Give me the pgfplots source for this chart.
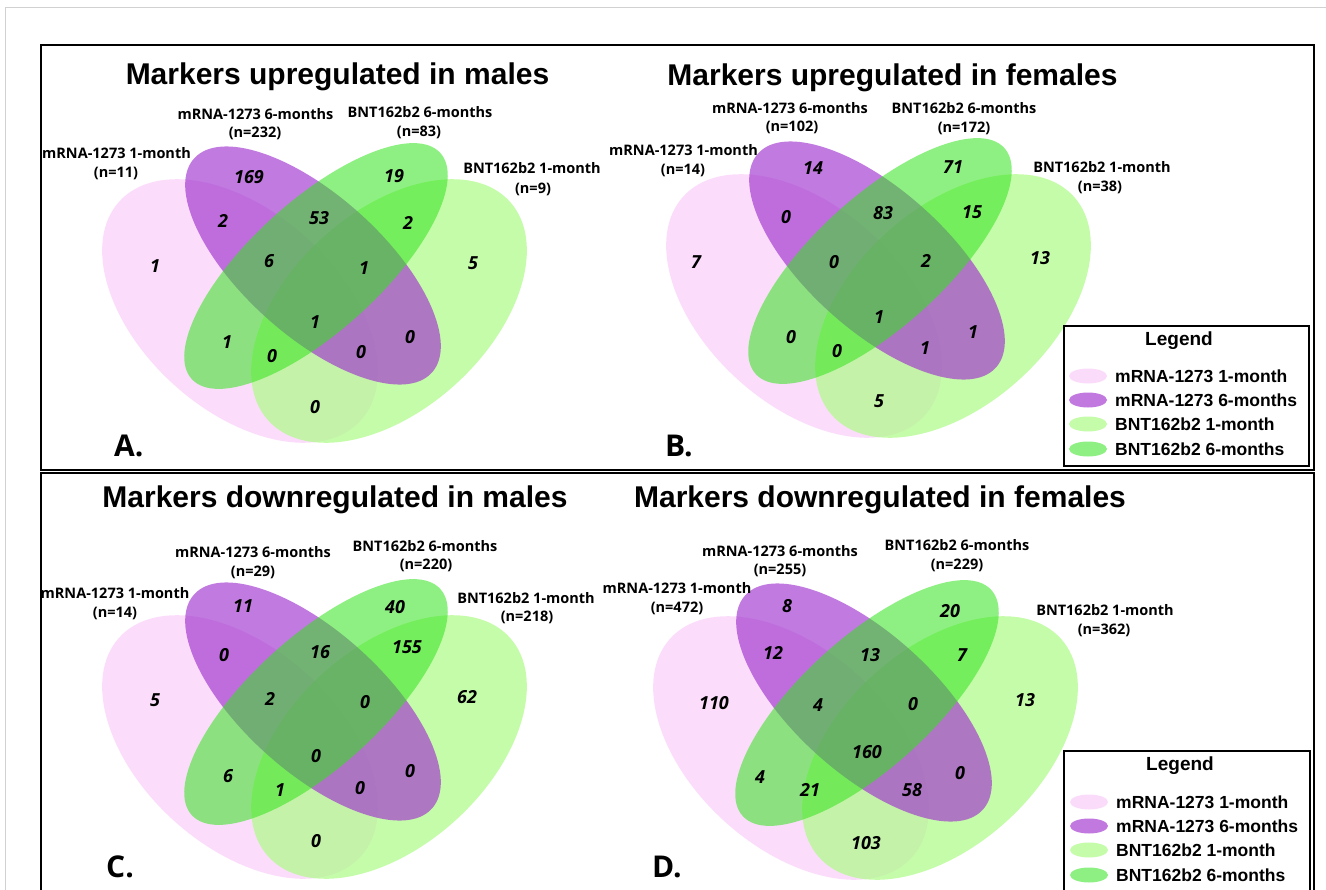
\documentclass[border=0pt]{standalone}
\usepackage{fontspec}
\setmainfont{Liberation Sans}
\newfontfamily\osans{Open Sans}
\usepackage{pgfplots}
\pgfplotsset{compat=1.18}
\usepackage{pgfplotstable}

% set colours (painted in this order, each translucent)
\definecolor{mOne}{RGB}{247,187,247}
\definecolor{bOne}{RGB}{176,251,139}
\definecolor{mSix}{RGB}{160,50,206}
\definecolor{bSix}{RGB}{50,228,28}
\tikzset{
  mone/.style={fill=mOne, fill opacity=0.5},
  bone/.style={fill=bOne, fill opacity=0.73},
  msix/.style={fill=mSix, fill opacity=0.65},
  bsix/.style={fill=bSix, fill opacity=0.55},
}
\newcommand\titlefont{\bfseries\fontsize{30bp}{36bp}\selectfont}
\newcommand\setfont{\osans\bfseries\fontsize{14.5bp}{17bp}\selectfont}
\newcommand\countfont{\osans\bfseries\itshape\fontsize{18bp}{21bp}\selectfont}
\newcommand\legfont{\bfseries\fontsize{17.5bp}{21bp}\selectfont}
\newcommand\legtitlefont{\bfseries\fontsize{19bp}{23bp}\selectfont}
\newcommand\panelfont{\osans\bfseries\fontsize{30bp}{36bp}\selectfont}

% set names and sizes
\pgfplotstableread{
x y t
116.5 153 {mRNA-1273 1-month}
116 173 {(n=11)}
255.5 114 {mRNA-1273 6-months}
255 133 {(n=232)}
420 112 {BNT162b2 6-months}
419 132 {(n=83)}
532 168 {BNT162b2 1-month}
533 189 {(n=9)}
683.5 150 {mRNA-1273 1-month}
683 170 {(n=14)}
790 108 {mRNA-1273 6-months}
792 127 {(n=102)}
964 108 {BNT162b2 6-months}
964 128 {(n=172)}
1102 167 {BNT162b2 1-month}
1100 187 {(n=38)}
115 593 {mRNA-1273 1-month}
115 613 {(n=14)}
253 552 {mRNA-1273 6-months}
253 572 {(n=29)}
425 546 {BNT162b2 6-months}
426 565 {(n=220)}
526 598 {BNT162b2 1-month}
527 617 {(n=218)}
677 588 {mRNA-1273 1-month}
677 608 {(n=472)}
780 551 {mRNA-1273 6-months}
780 570 {(n=255)}
957 545 {BNT162b2 6-months}
957 565 {(n=229)}
1105 610 {BNT162b2 1-month}
1104 630 {(n=362)}
}\setlabels

% region counts: up in males
\pgfplotstableread{
x y n
155 266 1
249 177 169
394 176 19
473 263 5
223 221 2
269 261 6
319 218 53
408 223 2
364 268 1
315 322 1
227 342 1
272 356 0
361 352 0
410 337 0
315 407 0
}\countsA
% up in females
\pgfplotstableread{
x y n
696 262 7
813 168 14
953 167 71
1040 258 13
786 217 0
834 262 0
883 213 83
972 212 15
926 261 2
879 317 1
791 337 0
837 351 0
925 348 1
973 332 1
879 401 5
}\countsB
% down in males
\pgfplotstableread{
x y n
155 700 5
243 606 11
395 607 40
467 697 62
224 655 0
270 699 2
320 652 16
407 647 155
365 702 0
316 756 0
228 776 6
280 790 1
360 788 0
410 771 0
316 841 0
}\countsC
% down in females
\pgfplotstableread{
x y n
714 703 110
787 606 8
950 611 20
1025 700 13
773 653 12
818 705 4
870 655 13
962 655 7
913 704 0
867 752 160
760 777 4
810 790 21
912 790 58
960 773 0
866 843 103
}\countsD

\begin{document}
\begin{tikzpicture}
\begin{axis}[
  x=1bp, y=1bp, xmin=0, xmax=1326, ymin=0, ymax=890,
  y dir=reverse, hide axis, scale only axis, clip=false,
]
% frames
\draw[black!18, line width=1bp] (axis cs:5,895) -- (axis cs:5,7) -- (axis cs:1330,7);
\draw[line width=2bp] (axis cs:40.5,45) rectangle (axis cs:1314,470);
\draw[line width=2bp] (axis cs:40.5,900) -- (axis cs:40.5,473) -- (axis cs:1314,473) -- (axis cs:1314,900);

% ellipses, panel A
\fill[mone, rotate around={-42.2:(axis cs:240,311)}] (axis cs:240,311) ellipse [x radius=163bp, y radius=99bp];
\fill[bone, rotate around={42.2:(axis cs:389,311)}] (axis cs:389,311) ellipse [x radius=163bp, y radius=99bp];
\fill[msix, rotate around={-42:(axis cs:313,265.5)}] (axis cs:313,265.5) ellipse [x radius=160bp, y radius=70bp];
\fill[bsix, rotate around={42.3:(axis cs:316,266)}] (axis cs:316,266) ellipse [x radius=168bp, y radius=65bp];
% panel B
\fill[mone, rotate around={-42.2:(axis cs:804,306)}] (axis cs:804,306) ellipse [x radius=163bp, y radius=99bp];
\fill[bone, rotate around={42.2:(axis cs:953,306)}] (axis cs:953,306) ellipse [x radius=163bp, y radius=99bp];
\fill[msix, rotate around={-42:(axis cs:877,260.5)}] (axis cs:877,260.5) ellipse [x radius=160bp, y radius=70bp];
\fill[bsix, rotate around={42.3:(axis cs:880,261)}] (axis cs:880,261) ellipse [x radius=168bp, y radius=65bp];
% panel C
\fill[mone, rotate around={-42.2:(axis cs:240,747)}] (axis cs:240,747) ellipse [x radius=163bp, y radius=99bp];
\fill[bone, rotate around={42.2:(axis cs:389,747)}] (axis cs:389,747) ellipse [x radius=163bp, y radius=99bp];
\fill[msix, rotate around={-42:(axis cs:313,701.5)}] (axis cs:313,701.5) ellipse [x radius=160bp, y radius=70bp];
\fill[bsix, rotate around={42.3:(axis cs:316,702)}] (axis cs:316,702) ellipse [x radius=168bp, y radius=65bp];
% panel D
\fill[mone, rotate around={-42.2:(axis cs:791,748)}] (axis cs:791,748) ellipse [x radius=163bp, y radius=99bp];
\fill[bone, rotate around={42.2:(axis cs:940,748)}] (axis cs:940,748) ellipse [x radius=163bp, y radius=99bp];
\fill[msix, rotate around={-42:(axis cs:864,702.5)}] (axis cs:864,702.5) ellipse [x radius=160bp, y radius=70bp];
\fill[bsix, rotate around={42.3:(axis cs:867,703)}] (axis cs:867,703) ellipse [x radius=168bp, y radius=65bp];

% titles
\node[anchor=base, font=\titlefont] at (axis cs:337.5,84) {Markers upregulated in males};
\node[anchor=base, font=\titlefont] at (axis cs:892.5,85) {Markers upregulated in females};
\node[anchor=base, font=\titlefont] at (axis cs:335,507) {Markers downregulated in males};
\node[anchor=base, font=\titlefont] at (axis cs:880,507) {Markers downregulated in females};

% panel letters
\node[anchor=base west, inner sep=0pt, font=\panelfont] at (axis cs:114,456) {A.};
\node[anchor=base west, inner sep=0pt, font=\panelfont] at (axis cs:665,456) {B.};
\node[anchor=base west, inner sep=0pt, font=\panelfont] at (axis cs:106,877) {C.};
\node[anchor=base west, inner sep=0pt, font=\panelfont] at (axis cs:652,877) {D.};

% set labels and counts
\pgfplotsset{txt/.style={only marks, mark=none, point meta=explicit symbolic,
  nodes near coords, nodes near coords align={center},
  nodes near coords style={inner sep=0pt, text=black, text opacity=1}}}
\addplot[txt, nodes near coords style={font=\setfont}] table[x=x, y=y, meta=t] {\setlabels};
\addplot[txt, nodes near coords style={font=\countfont}] table[x=x, y=y, meta=n] {\countsA};
\addplot[txt, nodes near coords style={font=\countfont}] table[x=x, y=y, meta=n] {\countsB};
\addplot[txt, nodes near coords style={font=\countfont}] table[x=x, y=y, meta=n] {\countsC};
\addplot[txt, nodes near coords style={font=\countfont}] table[x=x, y=y, meta=n] {\countsD};

% legends
\draw[line width=2.2bp, fill=white] (axis cs:1064,326) rectangle (axis cs:1309,466);
\node[font=\legtitlefont] at (axis cs:1179,341) {Legend};
\fill[mone] (axis cs:1088,376) ellipse [x radius=19bp, y radius=7.5bp];
\fill[msix] (axis cs:1088,400) ellipse [x radius=19bp, y radius=7.5bp];
\fill[bone] (axis cs:1088,424) ellipse [x radius=19bp, y radius=7.5bp];
\fill[bsix] (axis cs:1088,449) ellipse [x radius=19bp, y radius=7.5bp];
\node[anchor=west, inner sep=0pt, font=\legfont] at (axis cs:1115,376) {mRNA-1273 1-month};
\node[anchor=west, inner sep=0pt, font=\legfont] at (axis cs:1115,400) {mRNA-1273 6-months};
\node[anchor=west, inner sep=0pt, font=\legfont] at (axis cs:1115,424) {BNT162b2 1-month};
\node[anchor=west, inner sep=0pt, font=\legfont] at (axis cs:1115,449) {BNT162b2 6-months};

\draw[line width=2.2bp, fill=white] (axis cs:1064,751) rectangle (axis cs:1310,892);
\node[font=\legtitlefont] at (axis cs:1180,766) {Legend};
\fill[mone] (axis cs:1089,802) ellipse [x radius=19bp, y radius=7.5bp];
\fill[msix] (axis cs:1089,826) ellipse [x radius=19bp, y radius=7.5bp];
\fill[bone] (axis cs:1089,850) ellipse [x radius=19bp, y radius=7.5bp];
\fill[bsix] (axis cs:1089,875) ellipse [x radius=19bp, y radius=7.5bp];
\node[anchor=west, inner sep=0pt, font=\legfont] at (axis cs:1116,802) {mRNA-1273 1-month};
\node[anchor=west, inner sep=0pt, font=\legfont] at (axis cs:1116,826) {mRNA-1273 6-months};
\node[anchor=west, inner sep=0pt, font=\legfont] at (axis cs:1116,850) {BNT162b2 1-month};
\node[anchor=west, inner sep=0pt, font=\legfont] at (axis cs:1116,875) {BNT162b2 6-months};
\end{axis}
\pgfresetboundingbox
\useasboundingbox (current axis.south west) rectangle (current axis.north east);
\end{tikzpicture}
\end{document}
